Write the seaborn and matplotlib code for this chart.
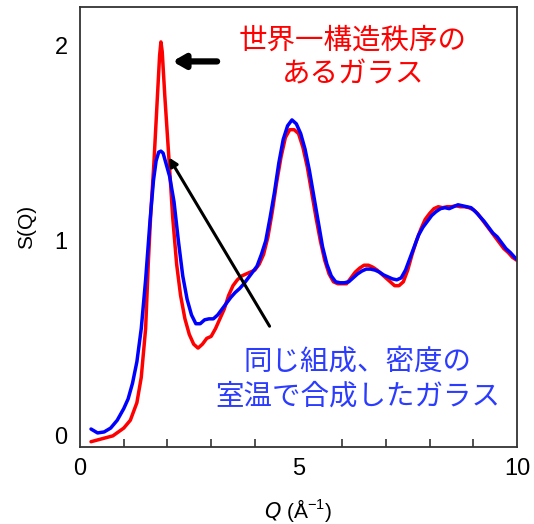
import pandas as pd
import seaborn as sns
import matplotlib.pyplot as plt
from matplotlib.ticker import MultipleLocator

# S(Q)
q_ordered = [0.25, 0.5, 0.75, 1.0, 1.15, 1.3, 1.4, 1.5, 1.56, 1.62, 1.69, 1.77, 1.82, 1.85, 1.88,
             1.94, 2.04, 2.12, 2.21, 2.3, 2.4, 2.5, 2.6, 2.7, 2.8, 2.9, 3.0, 3.1, 3.2, 3.3, 3.4, 3.5,
             3.6, 3.7, 3.8, 3.9, 4.0, 4.1, 4.2, 4.3, 4.4, 4.5, 4.6, 4.7, 4.8, 4.9, 5.0,
             5.1, 5.2, 5.3, 5.4, 5.5, 5.6, 5.7, 5.8, 5.9, 6.0, 6.1, 6.2, 6.3, 6.4, 6.5,
             6.6, 6.7, 6.8, 6.9, 7.0, 7.1, 7.2, 7.3, 7.4, 7.5, 7.6, 7.7, 7.8, 7.9, 8.0,
             8.1, 8.2, 8.3, 8.4, 8.5, 8.6, 8.7, 8.8, 8.9, 9.0, 9.1, 9.2, 9.3, 9.4, 9.5,
             9.6, 9.7, 9.8, 9.9, 10.0]
s_ordered = [-0.03, -0.015, 0.0, 0.04, 0.08, 0.17, 0.3, 0.55, 0.88, 1.15, 1.4, 1.74, 1.95, 2.02, 1.97,
             1.74, 1.4, 1.12, 0.88, 0.72, 0.6, 0.52, 0.47, 0.45, 0.47, 0.5, 0.51, 0.55, 0.6, 0.65, 0.72, 0.77,
             0.8, 0.82, 0.83, 0.84, 0.85, 0.88, 0.93, 1.02, 1.15, 1.3, 1.43, 1.53, 1.57, 1.57, 1.55,
             1.48, 1.38, 1.25, 1.12, 1.0, 0.9, 0.83, 0.79, 0.78, 0.78, 0.78, 0.81, 0.84, 0.86, 0.875,
             0.875, 0.865, 0.85, 0.83, 0.81, 0.79, 0.77, 0.77, 0.79, 0.85, 0.93, 1.0, 1.06, 1.11, 1.14,
             1.165, 1.175, 1.17, 1.175, 1.175, 1.18, 1.175, 1.175, 1.17, 1.16, 1.14, 1.11, 1.08, 1.05, 1.02,
             0.99, 0.96, 0.94, 0.915, 0.9]

q_room = [0.25, 0.4, 0.55, 0.7, 0.85, 1.0, 1.1, 1.2, 1.3, 1.4, 1.5, 1.6, 1.68, 1.74, 1.8, 1.85,
          1.9, 1.95, 2.05, 2.15, 2.25, 2.35, 2.45, 2.55, 2.65, 2.75, 2.85, 2.95, 3.05, 3.15, 3.25,
          3.35, 3.45, 3.55, 3.65, 3.75, 3.85, 3.95, 4.05, 4.15, 4.25, 4.35, 4.45, 4.55, 4.65,
          4.75, 4.85, 4.95, 5.05, 5.15, 5.25, 5.35, 5.45, 5.55, 5.65, 5.75, 5.85, 5.95, 6.05,
          6.15, 6.25, 6.35, 6.45, 6.55, 6.65, 6.75, 6.85, 6.95, 7.05, 7.15, 7.25, 7.35, 7.45,
          7.55, 7.65, 7.75, 7.85, 7.95, 8.05, 8.15, 8.25, 8.35, 8.45, 8.55, 8.65, 8.75, 8.85,
          8.95, 9.05, 9.15, 9.25, 9.35, 9.45, 9.55, 9.65, 9.75, 9.85, 9.95, 10.0]
s_room = [0.035, 0.015, 0.02, 0.04, 0.08, 0.14, 0.19, 0.27, 0.38, 0.55, 0.8, 1.1, 1.31, 1.41, 1.455, 1.46,
          1.45, 1.41, 1.33, 1.2, 1.0, 0.82, 0.7, 0.62, 0.575, 0.575, 0.595, 0.6, 0.6, 0.62, 0.65,
          0.68, 0.71, 0.735, 0.755, 0.78, 0.81, 0.84, 0.87, 0.93, 1.0, 1.12, 1.25, 1.4, 1.52,
          1.59, 1.62, 1.6, 1.55, 1.47, 1.36, 1.23, 1.1, 0.97, 0.88, 0.82, 0.79, 0.785, 0.785,
          0.79, 0.81, 0.83, 0.845, 0.855, 0.855, 0.85, 0.84, 0.825, 0.815, 0.805, 0.8, 0.81, 0.85,
          0.91, 0.97, 1.03, 1.07, 1.1, 1.13, 1.15, 1.165, 1.17, 1.165, 1.175, 1.185, 1.18, 1.175,
          1.17, 1.15, 1.125, 1.1, 1.07, 1.04, 1.02, 0.99, 0.96, 0.94, 0.915, 0.905]

label_ordered = "世界一構造秩序の\nあるガラス"
label_room = "同じ組成、密度の\n室温で合成したガラス"

df = pd.concat([
    pd.DataFrame({"Q": q_ordered, "S": s_ordered, "glass": "ordered"}),
    pd.DataFrame({"Q": q_room, "S": s_room, "glass": "room"}),
])

sns.set_style("white")
plt.rcParams['font.family'] = ['Liberation Sans', 'Noto Sans CJK JP', 'DejaVu Sans']
plt.rcParams['text.color'] = 'black'
plt.rcParams['axes.labelcolor'] = 'black'
plt.rcParams['xtick.color'] = 'black'
plt.rcParams['ytick.color'] = 'black'

fig = plt.figure(figsize=(5.34, 5.24), dpi=100)
ax = fig.add_axes([0.150, 0.147, 0.818, 0.840])

sns.lineplot(data=df, x="Q", y="S", hue="glass", palette={"ordered": "#ff0000", "room": "#0000ff"},
             linewidth=2.5, legend=False, ax=ax, sort=False)
for ln in ax.lines:
    ln.set_solid_joinstyle('round')

ax.set_xlim(0, 10)
ax.set_ylim(-0.057, 2.2)
ax.xaxis.set_major_locator(MultipleLocator(5))
ax.xaxis.set_minor_locator(MultipleLocator(1))
ax.set_yticks([0, 1, 2])
ax.tick_params(axis='x', which='major', direction='in', length=10, width=1.2, labelsize=17, pad=8, color='#333333')
ax.tick_params(axis='x', which='minor', direction='in', length=6, width=1.2, bottom=True, color='#333333')
ax.tick_params(axis='y', which='major', direction='in', length=12, width=1.2, labelsize=17, pad=9, color='#333333')
for s in ax.spines.values():
    s.set_color('#333333')
    s.set_linewidth(1.3)

ax.set_xlabel(r"$Q$ (Å$^{\mathregular{-1}}$)", fontsize=15, labelpad=12)
ax.set_ylabel("S(Q)", fontsize=15, labelpad=13)

# annotations
ax.annotate("", xy=(2.05, 1.92), xytext=(3.2, 1.92),
            arrowprops=dict(arrowstyle="-|>,head_length=0.7,head_width=0.4", lw=4.5, color='black'))
ax.annotate("", xy=(2.0, 1.44), xytext=(4.37, 0.55),
            arrowprops=dict(arrowstyle="-|>,head_length=0.5,head_width=0.25", lw=2.2, color='black'))
ax.text(6.25, 1.94, label_ordered, color='#ff0000', fontsize=20.5, ha='center', va='center',
        family=['Noto Sans CJK JP'], linespacing=1.2)
ax.text(6.36, 0.29, label_room, color='#2b3cff', fontsize=20.5, ha='center', va='center',
        family=['Noto Sans CJK JP'], linespacing=1.2)

plt.savefig("out.png", dpi=100)
